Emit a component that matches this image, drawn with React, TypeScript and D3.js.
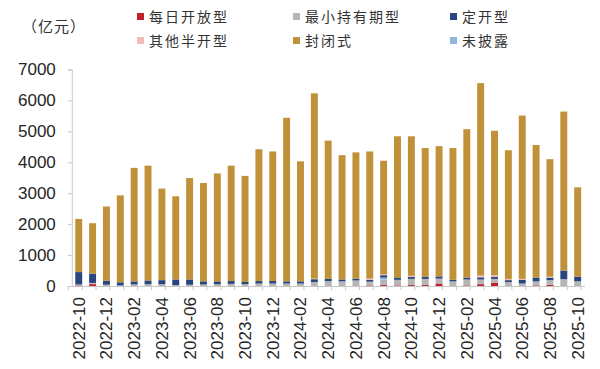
import React, { useRef, useEffect } from 'react';
import * as d3 from 'd3';

const months = [
  '2022-10', '2022-11', '2022-12', '2023-01', '2023-02', '2023-03', '2023-04', '2023-05',
  '2023-06', '2023-07', '2023-08', '2023-09', '2023-10', '2023-11', '2023-12', '2024-01',
  '2024-02', '2024-03', '2024-04', '2024-05', '2024-06', '2024-07', '2024-08', '2024-09',
  '2024-10', '2024-11', '2024-12', '2025-01', '2025-02', '2025-03', '2025-04', '2025-05',
  '2025-06', '2025-07', '2025-08', '2025-09', '2025-10',
];

// 亿元
const dailyOpen = [20, 60, 10, 0, 0, 0, 0, 0, 0, 0, 0, 0, 0, 0, 0, 0, 10, 0, 0, 0, 0, 20, 30, 20, 30, 30, 80, 0, 20, 60, 110, 0, 0, 20, 40, 0, 0];
const minHolding = [30, 40, 30, 20, 50, 60, 60, 30, 40, 50, 60, 70, 60, 80, 80, 80, 70, 130, 160, 150, 180, 120, 180, 180, 200, 200, 160, 150, 190, 150, 120, 130, 80, 130, 150, 220, 150];
const fixedOpen = [400, 300, 130, 100, 100, 120, 130, 180, 170, 100, 90, 90, 70, 80, 80, 70, 70, 90, 70, 60, 60, 60, 80, 60, 60, 70, 70, 50, 60, 70, 60, 60, 120, 120, 80, 280, 150];
const otherSemi = [0, 0, 0, 0, 0, 0, 0, 0, 0, 0, 0, 0, 0, 0, 0, 0, 0, 20, 0, 0, 0, 40, 30, 0, 40, 0, 0, 0, 0, 60, 60, 40, 30, 0, 30, 0, 0];
const closedEnd = [1720, 1630, 2400, 2810, 3670, 3710, 2960, 2690, 3280, 3180, 3490, 3730, 3430, 4260, 4190, 5290, 3880, 5990, 4470, 4020, 4080, 4110, 3670, 4580, 4510, 4160, 4210, 4260, 4800, 6220, 4670, 4160, 5280, 4290, 3800, 5140, 2890];
const undisclosed = [0, 0, 0, 0, 0, 0, 0, 0, 0, 0, 0, 0, 0, 0, 0, 0, 0, 0, 0, 0, 0, 0, 60, 0, 0, 0, 0, 0, 0, 0, 0, 0, 0, 0, 0, 0, 0];

const yTicks = [0, 1000, 2000, 3000, 4000, 5000, 6000, 7000];

const seriesNames = ['每日开放型', '最小持有期型', '定开型', '其他半开型', '封闭式', '未披露'];
const seriesColors = ['#c0202c', '#b5b5b5', '#27467f', '#f2b9be', '#bf9138', '#8fb6de'];
const seriesValues = [dailyOpen, minHolding, fixedOpen, otherSemi, closedEnd, undisclosed];
// bottom-to-top stacking order (indexes into the arrays above)
const stackOrder = [0, 1, 5, 2, 3, 4];

const W = 600;
const H = 369;

const App: React.FC = () => {
  const svgRef = useRef<SVGSVGElement | null>(null);

  useEffect(() => {
    if (!svgRef.current) return;
    const svg = d3.select(svgRef.current);
    svg.selectAll('*').remove();

    const rows = months.map((m, i) => {
      const r: Record<string, any> = { month: m };
      seriesNames.forEach((name, s) => { r[name] = seriesValues[s][i]; });
      return r;
    });

    const stack = d3.stack<Record<string, any>>()
      .keys(stackOrder.map(i => seriesNames[i]));
    const layers = stack(rows);

    const x = d3.scaleBand()
      .domain(months)
      .range([71.8, 584.6])
      .paddingInner(0.5)
      .paddingOuter(0.25);

    const y = d3.scaleLinear().domain([0, 7000]).range([286, 69.5]);

    // bars
    const colorOf = (name: string) => seriesColors[seriesNames.indexOf(name)];
    svg.append('g')
      .selectAll('g')
      .data(layers)
      .enter()
      .append('g')
      .attr('fill', d => colorOf(d.key))
      .selectAll('rect')
      .data(d => d)
      .enter()
      .append('rect')
      .attr('x', d => x(d.data.month as string) || 0)
      .attr('y', d => y(d[1]))
      .attr('width', x.bandwidth())
      .attr('height', d => Math.max(0, y(d[0]) - y(d[1])));

    // y axis
    const yAxis = d3.axisLeft(y).tickValues(yTicks).tickSize(4).tickFormat(d => String(d));
    const yg = svg.append('g').attr('transform', 'translate(71.8,0)').call(yAxis);
    yg.select('.domain').attr('stroke', '#c8c8c8');
    yg.selectAll('.tick line').attr('stroke', '#c8c8c8');
    yg.selectAll('.tick text')
      .attr('x', -16)
      .attr('fill', '#262626')
      .style('font-family', '"Liberation Sans", Arial, sans-serif')
      .style('font-size', '17px');

    // x axis
    const xAxis = d3.axisBottom(x).tickSize(0).tickFormat(() => '');
    const xg = svg.append('g').attr('transform', 'translate(0,286)').call(xAxis);
    xg.select('.domain').attr('stroke', '#c8c8c8');
    xg.selectAll('.tick').remove();

    const step = x.step();
    const edges = d3.range(months.length + 1).map(i => (x(months[0]) || 0) - x.bandwidth() * 0.5 - (step - x.bandwidth()) / 2 + i * step);
    xg.selectAll('line.edge')
      .data(edges)
      .enter()
      .append('line')
      .attr('class', 'edge')
      .attr('x1', d => d).attr('x2', d => d)
      .attr('y1', 0).attr('y2', 4)
      .attr('stroke', '#c8c8c8');

    xg.selectAll('text.lbl')
      .data(months.filter((_, i) => i % 2 === 0))
      .enter()
      .append('text')
      .attr('class', 'lbl')
      .attr('transform', d => `translate(${(x(d) || 0) + x.bandwidth() / 2 + 6},11) rotate(-90)`)
      .attr('text-anchor', 'end')
      .attr('fill', '#262626')
      .style('font-family', '"Liberation Sans", Arial, sans-serif')
      .style('font-size', '17px')
      .text(d => d);

    // unit
    svg.append('text')
      .attr('x', 22).attr('y', 32)
      .attr('fill', '#333')
      .style('font-family', '"Noto Sans CJK SC", sans-serif')
      .style('font-size', '15px')
      .style('letter-spacing', '1px')
      .text('（亿元）');

    // legend
    const legendX = [137, 293, 450];
    const legendY = [17, 41];
    const lg = svg.append('g');
    seriesNames.forEach((name, i) => {
      const cx = legendX[i % 3];
      const cy = legendY[Math.floor(i / 3)];
      lg.append('rect')
        .attr('x', cx).attr('y', cy - 4)
        .attr('width', 7).attr('height', 7)
        .attr('fill', seriesColors[i]);
      lg.append('text')
        .attr('x', cx + 12).attr('y', cy + 5)
        .attr('fill', '#333')
        .style('font-family', '"Noto Sans CJK SC", sans-serif')
        .style('font-size', '14px')
        .style('letter-spacing', '2px')
        .text(name);
    });
  }, []);

  return (
    <div style={{ position: 'absolute', left: 0, top: 0, width: W, height: H, background: '#fff' }}>
      <svg ref={svgRef} width={W} height={H}></svg>
    </div>
  );
};

export default App;
